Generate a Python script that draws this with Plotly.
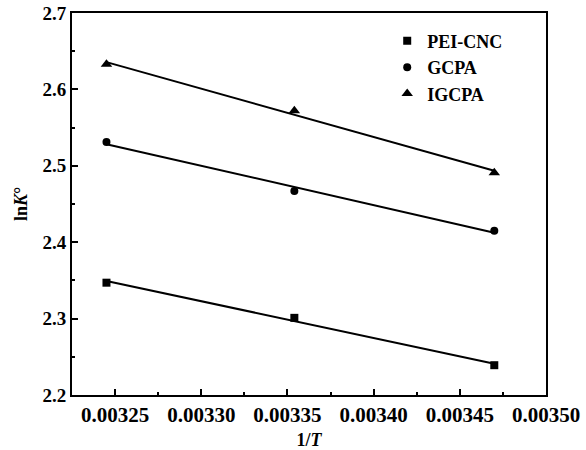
import numpy as np
import plotly.graph_objects as go

inv_T = [0.003245, 0.003354, 0.003470]
pei_cnc = [2.347, 2.301, 2.239]
gcpa = [2.531, 2.467, 2.415]
igcpa = [2.633, 2.572, 2.491]

series = [
    ("PEI-CNC", pei_cnc, "square", 8),
    ("GCPA", gcpa, "circle", 8),
    ("IGCPA", igcpa, "triangle-up", 10),
]

fig = go.Figure()
x = np.array(inv_T)
for name, y, sym, sz in series:
    k, b = np.polyfit(x, np.array(y), 1)
    xf = np.array([x.min(), x.max()])
    fig.add_trace(go.Scatter(x=xf, y=k * xf + b, mode="lines",
                             line=dict(color="black", width=2),
                             showlegend=False, hoverinfo="skip"))
for name, y, sym, sz in series:
    fig.add_trace(go.Scatter(x=inv_T, y=y, mode="markers", name=name,
                             marker=dict(symbol=sym, size=sz, color="black")))

bold = dict(family="Liberation Serif", size=18, color="black", weight="bold")
xbold = dict(family="Liberation Serif", size=21, color="black", weight="bold")
ybold = dict(family="Liberation Serif", size=19, color="black", weight="bold")
fig.update_layout(
    width=586, height=450,
    margin=dict(l=72, r=40, t=13, b=55, autoexpand=False),
    plot_bgcolor="white", paper_bgcolor="white",
    font=bold,
    showlegend=True,
    legend=dict(x=0.665, y=0.975, xanchor="left", yanchor="top",
                bgcolor="rgba(0,0,0,0)", font=dict(family="Liberation Serif", size=18, color="black", weight="bold"),
                itemsizing="trace", tracegroupgap=0),
)
fig.update_xaxes(
    range=[0.003225, 0.0035], tickvals=[0.00325, 0.00330, 0.00335, 0.00340, 0.00345, 0.00350],
    ticktext=["0.00325", "0.00330", "0.00335", "0.00340", "0.00345", "0.00350"],
    tickfont=xbold, automargin=False,
    ticks="inside", ticklen=6, tickwidth=2, tickcolor="black",
    minor=dict(tickvals=[0.003275, 0.003325, 0.003375, 0.003425, 0.003475], ticks="inside", ticklen=3, tickwidth=2, tickcolor="black"),
    showline=True, linecolor="black", linewidth=2, mirror=True,
    showgrid=False, zeroline=False,
    title=dict(text="1/<i>T</i>", font=bold, standoff=10),
)
fig.update_yaxes(
    range=[2.2, 2.7], tickvals=[2.2, 2.3, 2.4, 2.5, 2.6, 2.7],
    ticktext=["2.2", "2.3", "2.4", "2.5", "2.6", "2.7"],
    tickfont=ybold, automargin=False,
    ticks="inside", ticklen=6, tickwidth=2, tickcolor="black",
    minor=dict(tickvals=[2.25, 2.35, 2.45, 2.55, 2.65], ticks="inside", ticklen=3, tickwidth=2, tickcolor="black"),
    showline=True, linecolor="black", linewidth=2, mirror=True,
    showgrid=False, zeroline=False,
    title=dict(text="ln<i>K</i>°", font=bold, standoff=10),
)
fig.write_html("out.html")
